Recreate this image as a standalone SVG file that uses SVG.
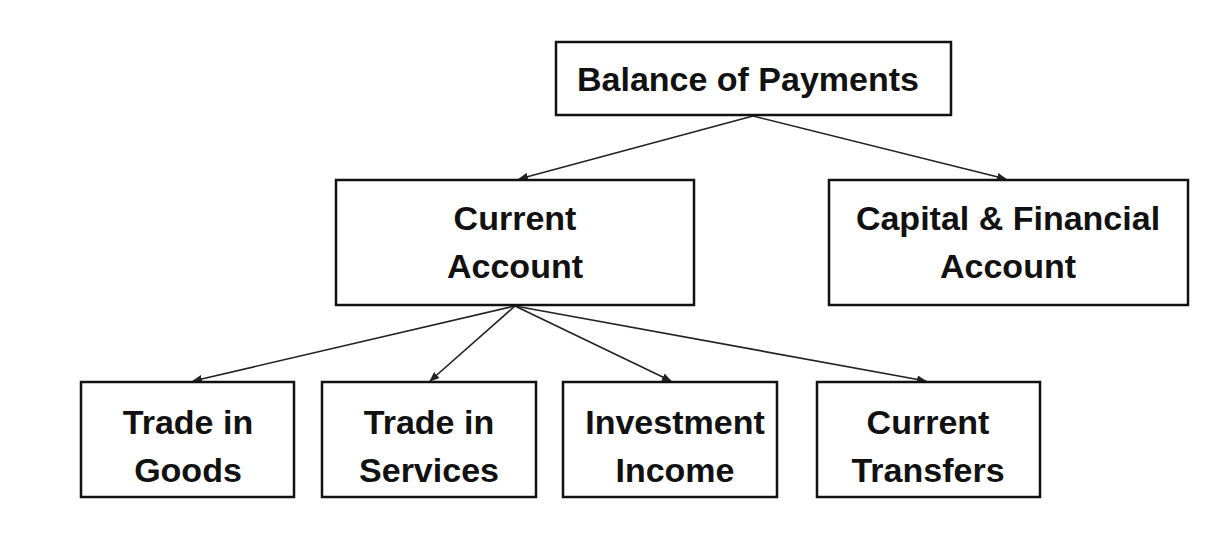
<svg xmlns="http://www.w3.org/2000/svg" width="1232" height="536" viewBox="0 0 1232 536">
<style>
rect{fill:#fff;stroke:#111;stroke-width:2.5}
text{font-family:"Liberation Sans",Arial,sans-serif;font-weight:bold;font-size:34px;fill:#111;text-anchor:middle}
.c line{stroke:#222;stroke-width:1.6;marker-end:url(#a)}
</style>
<defs><marker id="a" markerWidth="10" markerHeight="8" refX="9" refY="4" orient="auto" markerUnits="userSpaceOnUse"><path d="M0,0L10,4L0,8z" fill="#222"/></marker></defs>
<rect x="0" y="0" width="1232" height="536" style="stroke:none"/>
<g class="c">
<line x1="753" y1="116" x2="519" y2="179"/>
<line x1="753" y1="116" x2="1006" y2="179"/>
<line x1="515" y1="306" x2="193" y2="381"/>
<line x1="515" y1="306" x2="430" y2="381"/>
<line x1="515" y1="306" x2="671" y2="381"/>
<line x1="515" y1="306" x2="926" y2="381"/>
</g>
<g id="bop"><rect x="556" y="42" width="395" height="73"/><text x="748" y="91">Balance of Payments</text></g>
<g id="ca"><rect x="336" y="180" width="358" height="125"/><text x="515" y="230">Current</text><text x="515" y="278">Account</text></g>
<g id="cfa"><rect x="829" y="180" width="359" height="125"/><text x="1008" y="230">Capital &amp; Financial</text><text x="1008" y="278">Account</text></g>
<g id="tg"><rect x="81" y="382" width="213" height="115"/><text x="188" y="434">Trade in</text><text x="188" y="482">Goods</text></g>
<g id="ts"><rect x="322" y="382" width="214" height="115"/><text x="429" y="434">Trade in</text><text x="429" y="482">Services</text></g>
<g id="ii"><rect x="563" y="382" width="214" height="115"/><text x="675" y="434">Investment</text><text x="675" y="482">Income</text></g>
<g id="ct"><rect x="817" y="382" width="223" height="115"/><text x="928" y="434">Current</text><text x="928" y="482">Transfers</text></g>
</svg>
